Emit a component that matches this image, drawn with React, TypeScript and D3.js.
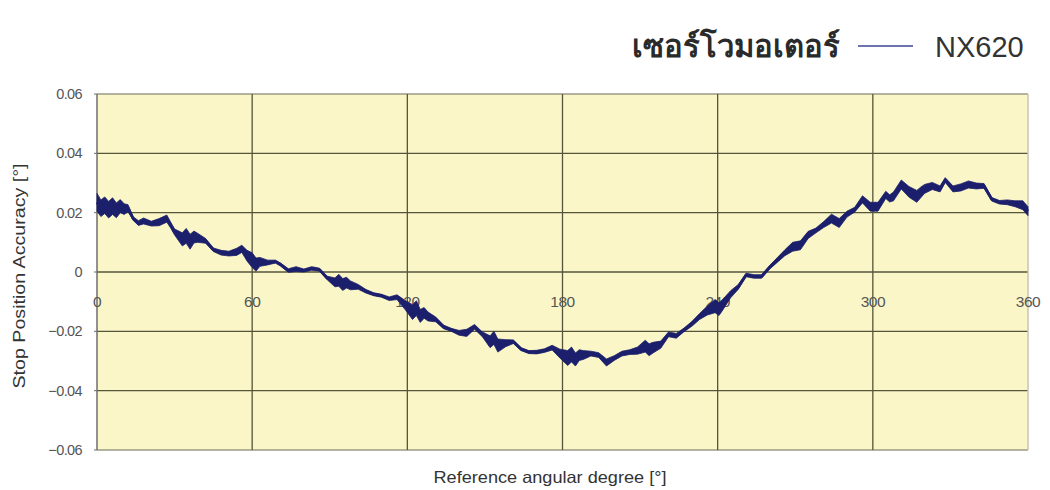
import React from "react";
import * as d3 from "d3";

const degrees = [0, 1.5, 3, 4.5, 6, 7.5, 9, 10.5, 12, 14, 16, 18, 21, 24, 27, 28.5, 30, 33, 34.5, 36, 37.5, 39, 42, 45, 48, 51, 54, 56, 58, 60, 61.5, 63, 66, 69, 71, 74, 77, 80, 83, 86, 89, 92, 93.5, 95, 96.5, 98, 101, 104, 107, 110, 113, 116, 119, 122, 123.5, 125, 126.5, 128, 131, 134, 137, 140, 143, 146, 149, 152, 153.5, 155, 158, 161, 164, 167, 170, 173, 176, 179, 182, 183.5, 185, 186.5, 188, 191, 194, 197, 200, 203, 206, 209, 212, 213.5, 215, 218, 221, 224, 227, 230, 233, 236, 239, 240.5, 242, 245, 248, 251, 254, 257, 260, 263, 266, 269, 272, 275, 278, 281, 284, 287, 290, 293, 296, 299, 302, 305, 306.5, 308, 311, 314, 317, 318.5, 320, 323, 326, 328, 331, 334, 337, 340, 343, 346, 349, 352, 355, 358, 360];

const accuracy = [0.0235, 0.0215, 0.0225, 0.021, 0.0222, 0.0208, 0.0222, 0.0212, 0.0215, 0.018, 0.0165, 0.0172, 0.0163, 0.0168, 0.018, 0.0158, 0.0135, 0.011, 0.0122, 0.0102, 0.0118, 0.0115, 0.0105, 0.0075, 0.0065, 0.0062, 0.0068, 0.0078, 0.0055, 0.004, 0.0025, 0.0034, 0.0032, 0.0035, 0.0025, 0.0005, 0.001, 0.0005, 0.0012, 0.0008, -0.002, -0.0035, -0.0028, -0.0042, -0.0036, -0.0045, -0.005, -0.0065, -0.0075, -0.008, -0.009, -0.0085, -0.011, -0.0135, -0.0122, -0.0148, -0.0138, -0.015, -0.016, -0.0185, -0.0195, -0.0205, -0.0205, -0.0185, -0.021, -0.0235, -0.0222, -0.0248, -0.024, -0.0235, -0.026, -0.027, -0.027, -0.0265, -0.0255, -0.0275, -0.029, -0.0278, -0.0295, -0.028, -0.028, -0.0275, -0.028, -0.0305, -0.029, -0.0275, -0.027, -0.0265, -0.025, -0.0262, -0.0255, -0.0245, -0.021, -0.0215, -0.0195, -0.0175, -0.015, -0.013, -0.0115, -0.0125, -0.011, -0.0075, -0.005, -0.001, -0.0015, -0.0015, 0.0015, 0.004, 0.0065, 0.0085, 0.009, 0.0125, 0.014, 0.016, 0.018, 0.0165, 0.0195, 0.021, 0.0245, 0.022, 0.022, 0.026, 0.0248, 0.0255, 0.0295, 0.027, 0.0255, 0.0268, 0.028, 0.029, 0.028, 0.031, 0.028, 0.0285, 0.0295, 0.029, 0.029, 0.0245, 0.0235, 0.0235, 0.023, 0.0225, 0.0205];

// half-thickness of the vibration band at each point
const spread = [0.003, 0.0028, 0.0028, 0.0028, 0.0028, 0.0025, 0.0022, 0.0018, 0.0012, 0.0006, 0.0008, 0.001, 0.0008, 0.0012, 0.0012, 0.001, 0.001, 0.0022, 0.0025, 0.0025, 0.002, 0.0015, 0.0008, 0.0006, 0.0008, 0.0008, 0.0012, 0.0012, 0.0018, 0.0025, 0.0022, 0.0015, 0.0008, 0.0005, 0.0005, 0.0006, 0.0008, 0.0005, 0.0006, 0.0005, 0.0006, 0.0015, 0.002, 0.002, 0.0018, 0.0015, 0.0008, 0.0006, 0.0005, 0.0005, 0.0006, 0.0008, 0.0015, 0.0025, 0.0025, 0.0022, 0.0018, 0.0015, 0.0008, 0.0006, 0.0005, 0.0008, 0.0012, 0.0008, 0.0008, 0.002, 0.0022, 0.0022, 0.0012, 0.0006, 0.0005, 0.0005, 0.0006, 0.0006, 0.0008, 0.0015, 0.0025, 0.0025, 0.0022, 0.0018, 0.0015, 0.0008, 0.0008, 0.0012, 0.0008, 0.0008, 0.0008, 0.0012, 0.002, 0.002, 0.0018, 0.0012, 0.0008, 0.0008, 0.0006, 0.0008, 0.001, 0.0015, 0.0022, 0.0022, 0.0018, 0.0012, 0.0008, 0.0006, 0.0006, 0.0006, 0.0006, 0.0008, 0.001, 0.0015, 0.0015, 0.0012, 0.0008, 0.001, 0.0015, 0.0015, 0.001, 0.0008, 0.0012, 0.0015, 0.0015, 0.0012, 0.0012, 0.0015, 0.0015, 0.0018, 0.002, 0.0018, 0.0015, 0.0012, 0.001, 0.0008, 0.001, 0.0012, 0.0012, 0.001, 0.0008, 0.0006, 0.0006, 0.0008, 0.001, 0.0015, 0.0015];

const xTicks = [0, 60, 120, 180, 240, 300, 360];
const yTicks = [0.06, 0.04, 0.02, 0, -0.02, -0.04, -0.06];
const yTickLabels = ["0.06", "0.04", "0.02", "0", "\u22120.02", "\u22120.04", "\u22120.06"];

const titleText = "เซอร์โวมอเตอร์";
const seriesName = "NX620";
const xTitle = "Reference angular degree [°]";
const yTitle = "Stop Position Accuracy [°]";

export default function App() {
  const W = 1050;
  const H = 490;
  const left = 97;
  const right = 1028;
  const top = 94;
  const bottom = 450;

  const x = d3.scaleLinear().domain([0, 360]).range([left, right]);
  const y = d3.scaleLinear().domain([-0.06, 0.06]).range([bottom, top]);

  const pts = degrees.map((d, i) => ({ d, v: accuracy[i], s: spread[i] }));
  const line = d3
    .line<{ d: number; v: number; s: number }>()
    .x((p) => x(p.d))
    .y((p) => y(p.v))
    .curve(d3.curveLinear);
  const area = d3
    .area<{ d: number; v: number; s: number }>()
    .x((p) => x(p.d))
    .y0((p) => y(p.v - p.s))
    .y1((p) => y(p.v + p.s))
    .curve(d3.curveLinear);

  const gridColor = "#55553a";
  const navy = "#1c1f6b";

  return (
    <svg
      width={W}
      height={H}
      style={{ position: "absolute", left: 0, top: 0, background: "#fff" }}
      fontFamily="Liberation Sans, Arial, sans-serif"
    >
      <rect x={left} y={top} width={right - left} height={bottom - top} fill="#faf6c8" />
      {yTicks.map((t) => (
        <line
          key={"h" + t}
          x1={left}
          x2={right}
          y1={y(t)}
          y2={y(t)}
          stroke={t === 0.06 || t === -0.06 ? "#9a9a86" : gridColor}
          strokeWidth={1.3}
        />
      ))}
      {xTicks.slice(1, -1).map((t) => (
        <line key={"v" + t} x1={x(t)} x2={x(t)} y1={top} y2={bottom} stroke={gridColor} strokeWidth={1.3} />
      ))}
      <line x1={right} x2={right} y1={top} y2={bottom} stroke="#c4c4b4" strokeWidth={1.5} />
      <line x1={left} x2={left} y1={top} y2={bottom} stroke="#6e6e6e" strokeWidth={1.5} />
      {yTicks.map((t) => (
        <line key={"yt" + t} x1={left - 3} x2={left} y1={y(t)} y2={y(t)} stroke="#6e6e6e" strokeWidth={1} />
      ))}
      {yTicks.map((t, i) => (
        <text
          key={"yl" + t}
          x={82}
          y={y(t)}
          dy="0.35em"
          textAnchor="end"
          fontSize={14.5}
          fill="#555"
          style={{ letterSpacing: "-0.6px" }}
        >
          {yTickLabels[i]}
        </text>
      ))}
      {xTicks.map((t) => (
        <text
          key={"xl" + t}
          x={x(t)}
          y={y(-0.01)}
          dy="0.35em"
          textAnchor="middle"
          fontSize={15.5}
          fill="#555"
          style={{ letterSpacing: "-0.5px" }}
        >
          {t}
        </text>
      ))}
      <path d={area(pts) || ""} fill={navy} stroke={navy} strokeWidth={0.8} strokeLinejoin="round" />
      <path d={line(pts) || ""} fill="none" stroke={navy} strokeWidth={2.8} strokeLinejoin="round" />
      <text
        x={550}
        y={483}
        textAnchor="middle"
        fontSize={16.5}
        fill="#333"
        textLength={233}
        lengthAdjust="spacingAndGlyphs"
      >
        {xTitle}
      </text>
      <text
        transform={`translate(25,276) rotate(-90)`}
        textAnchor="middle"
        fontSize={16.5}
        fill="#333"
        textLength={225}
        lengthAdjust="spacingAndGlyphs"
      >
        {yTitle}
      </text>
      <text x={840} y={57} textAnchor="end" fontSize={31} fontWeight="bold" fill="#2a2a2a">
        {titleText}
      </text>
      <line x1={858} x2={913} y1={46} y2={46} stroke="#6d74b0" strokeWidth={1.8} />
      <text x={935} y={57} fontSize={29} fill="#333">
        {seriesName}
      </text>
    </svg>
  );
}
